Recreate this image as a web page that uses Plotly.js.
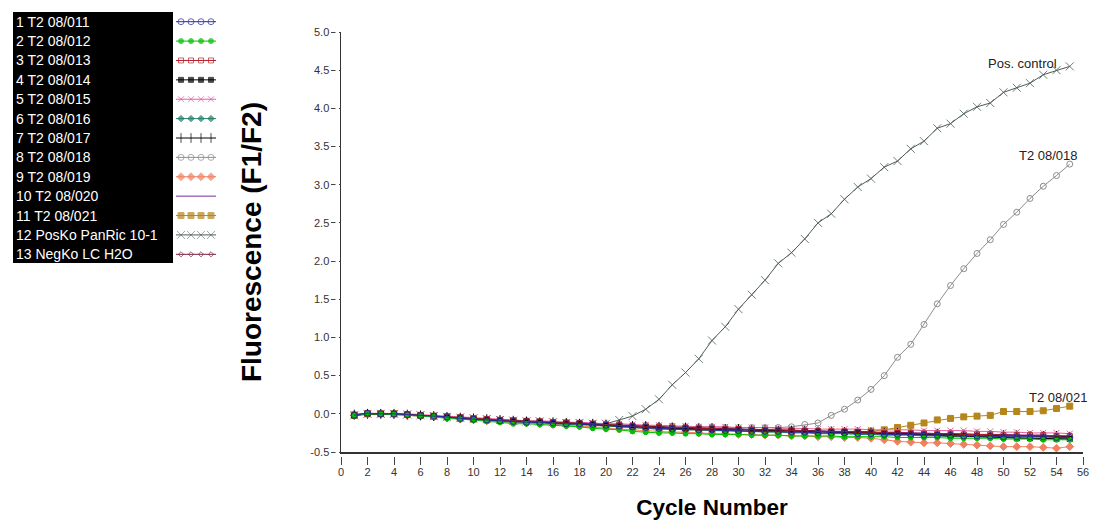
<!DOCTYPE html>
<html>
<head>
<meta charset="utf-8">
<script src="https://cdn.plot.ly/plotly-3.0.1.min.js"></script>
<style>html,body{margin:0;padding:0;background:#fff;}#chart{width:1094px;height:524px;}</style>
</head>
<body>
<div id="chart"></div>
<script>
const cycles = Array.from({length: 55}, (_, i) => i + 1);

const seriesNames = [
  "1 T2 08/011", "2 T2 08/012", "3 T2 08/013", "4 T2 08/014", "5 T2 08/015",
  "6 T2 08/016", "7 T2 08/017", "8 T2 08/018", "9 T2 08/019", "10 T2 08/020",
  "11 T2 08/021", "12 PosKo PanRic 10-1", "13 NegKo LC H2O"
];

const s01 = [-0.02,0.01,0.00,0.00,-0.01,-0.02,-0.03,-0.04,-0.06,-0.07,
  -0.08,-0.09,-0.10,-0.11,-0.11,-0.12,-0.13,-0.13,-0.14,-0.15,
  -0.16,-0.17,-0.18,-0.19,-0.20,-0.20,-0.21,-0.21,-0.22,-0.22,
  -0.23,-0.23,-0.23,-0.24,-0.24,-0.25,-0.25,-0.25,-0.26,-0.26,
  -0.27,-0.27,-0.27,-0.28,-0.28,-0.28,-0.29,-0.29,-0.29,-0.30,
  -0.30,-0.30,-0.30,-0.31,-0.31];
const s02 = [-0.02,0.00,0.00,-0.01,-0.02,-0.03,-0.04,-0.06,-0.07,-0.08,
  -0.10,-0.11,-0.13,-0.13,-0.14,-0.15,-0.16,-0.17,-0.19,-0.20,
  -0.21,-0.23,-0.24,-0.25,-0.25,-0.26,-0.26,-0.27,-0.27,-0.27,
  -0.28,-0.28,-0.28,-0.29,-0.29,-0.29,-0.29,-0.30,-0.30,-0.30,
  -0.30,-0.31,-0.31,-0.31,-0.31,-0.32,-0.32,-0.32,-0.32,-0.33,
  -0.33,-0.33,-0.34,-0.34,-0.34];
const s03 = [-0.01,0.00,0.00,0.00,-0.01,-0.02,-0.03,-0.04,-0.05,-0.06,
  -0.07,-0.08,-0.09,-0.10,-0.10,-0.11,-0.12,-0.12,-0.13,-0.14,
  -0.15,-0.16,-0.17,-0.17,-0.18,-0.18,-0.19,-0.19,-0.20,-0.20,
  -0.21,-0.21,-0.21,-0.22,-0.22,-0.23,-0.23,-0.23,-0.24,-0.24,
  -0.25,-0.25,-0.25,-0.26,-0.26,-0.26,-0.27,-0.27,-0.27,-0.28,
  -0.28,-0.28,-0.28,-0.29,-0.29];
const s04 = [-0.02,0.00,0.00,0.00,-0.01,-0.02,-0.03,-0.04,-0.05,-0.07,
  -0.08,-0.09,-0.09,-0.10,-0.11,-0.12,-0.12,-0.13,-0.14,-0.15,
  -0.16,-0.17,-0.17,-0.18,-0.19,-0.19,-0.20,-0.20,-0.21,-0.21,
  -0.21,-0.22,-0.22,-0.22,-0.23,-0.23,-0.24,-0.24,-0.24,-0.25,
  -0.26,-0.26,-0.27,-0.27,-0.28,-0.29,-0.29,-0.30,-0.30,-0.31,
  -0.32,-0.32,-0.32,-0.33,-0.33];
const s05 = [-0.01,0.00,0.01,0.00,0.00,-0.01,-0.02,-0.03,-0.04,-0.05,
  -0.06,-0.07,-0.08,-0.09,-0.09,-0.10,-0.11,-0.11,-0.12,-0.13,
  -0.13,-0.14,-0.15,-0.15,-0.16,-0.16,-0.17,-0.17,-0.17,-0.18,
  -0.18,-0.18,-0.19,-0.19,-0.19,-0.20,-0.20,-0.20,-0.20,-0.21,
  -0.21,-0.21,-0.21,-0.22,-0.22,-0.22,-0.22,-0.23,-0.23,-0.24,
  -0.24,-0.25,-0.25,-0.25,-0.26];
const s06 = [-0.02,-0.01,0.00,0.00,-0.01,-0.02,-0.03,-0.05,-0.06,-0.07,
  -0.08,-0.10,-0.11,-0.11,-0.12,-0.13,-0.14,-0.14,-0.15,-0.16,
  -0.17,-0.18,-0.19,-0.20,-0.20,-0.21,-0.21,-0.22,-0.22,-0.23,
  -0.23,-0.24,-0.24,-0.25,-0.25,-0.26,-0.26,-0.26,-0.27,-0.27,
  -0.28,-0.28,-0.28,-0.29,-0.29,-0.30,-0.30,-0.30,-0.31,-0.31,
  -0.31,-0.32,-0.32,-0.32,-0.33];
const s07 = [-0.01,0.00,0.00,0.00,-0.01,-0.02,-0.03,-0.04,-0.05,-0.06,
  -0.07,-0.08,-0.09,-0.10,-0.11,-0.11,-0.12,-0.13,-0.13,-0.14,
  -0.15,-0.16,-0.16,-0.17,-0.18,-0.18,-0.19,-0.19,-0.20,-0.20,
  -0.21,-0.21,-0.22,-0.22,-0.22,-0.23,-0.23,-0.24,-0.24,-0.24,
  -0.25,-0.25,-0.26,-0.26,-0.26,-0.27,-0.27,-0.27,-0.28,-0.28,
  -0.28,-0.29,-0.29,-0.29,-0.30];
const s08 = [-0.01,0.00,0.00,0.00,-0.01,-0.02,-0.03,-0.04,-0.05,-0.06,
  -0.07,-0.08,-0.09,-0.09,-0.10,-0.11,-0.11,-0.12,-0.13,-0.13,
  -0.14,-0.15,-0.15,-0.16,-0.16,-0.17,-0.17,-0.17,-0.18,-0.18,
  -0.18,-0.18,-0.18,-0.17,-0.14,-0.12,-0.02,0.06,0.18,0.32,
  0.50,0.74,0.91,1.17,1.44,1.68,1.90,2.10,2.28,2.48,
  2.64,2.82,2.98,3.12,3.27];
const s09 = [-0.02,0.00,0.00,-0.01,-0.02,-0.03,-0.04,-0.05,-0.07,-0.08,
  -0.09,-0.10,-0.11,-0.12,-0.13,-0.14,-0.15,-0.16,-0.17,-0.19,
  -0.20,-0.21,-0.22,-0.23,-0.24,-0.24,-0.25,-0.26,-0.26,-0.27,
  -0.27,-0.28,-0.28,-0.29,-0.29,-0.30,-0.30,-0.31,-0.31,-0.32,
  -0.34,-0.36,-0.37,-0.38,-0.38,-0.39,-0.40,-0.41,-0.42,-0.43,
  -0.43,-0.43,-0.44,-0.45,-0.43];
const s10 = [-0.01,0.00,0.00,0.00,-0.01,-0.02,-0.03,-0.04,-0.05,-0.06,
  -0.07,-0.08,-0.09,-0.10,-0.10,-0.11,-0.12,-0.12,-0.13,-0.14,
  -0.15,-0.15,-0.16,-0.17,-0.17,-0.18,-0.18,-0.19,-0.19,-0.20,
  -0.20,-0.21,-0.21,-0.21,-0.22,-0.22,-0.23,-0.23,-0.23,-0.24,
  -0.24,-0.24,-0.25,-0.25,-0.26,-0.26,-0.26,-0.27,-0.27,-0.27,
  -0.28,-0.28,-0.28,-0.29,-0.29];
const s11 = [-0.02,0.00,0.00,0.00,-0.01,-0.02,-0.03,-0.04,-0.06,-0.07,
  -0.08,-0.09,-0.10,-0.10,-0.11,-0.12,-0.13,-0.14,-0.15,-0.16,
  -0.17,-0.18,-0.19,-0.20,-0.20,-0.21,-0.21,-0.22,-0.22,-0.22,
  -0.23,-0.23,-0.23,-0.24,-0.24,-0.24,-0.24,-0.24,-0.24,-0.23,
  -0.21,-0.18,-0.15,-0.12,-0.08,-0.06,-0.04,-0.03,-0.02,0.03,
  0.03,0.03,0.04,0.07,0.10];
const s12 = [-0.02,0.00,0.00,0.00,-0.01,-0.02,-0.03,-0.04,-0.05,-0.06,
  -0.07,-0.08,-0.09,-0.10,-0.10,-0.11,-0.12,-0.12,-0.13,-0.13,
  -0.08,-0.03,0.06,0.19,0.38,0.54,0.72,0.96,1.14,1.37,
  1.56,1.75,1.97,2.11,2.29,2.50,2.62,2.81,2.97,3.08,
  3.23,3.31,3.47,3.57,3.74,3.80,3.93,4.02,4.07,4.21,
  4.27,4.33,4.44,4.50,4.55];
const s13 = [-0.02,0.00,0.00,0.00,-0.01,-0.02,-0.03,-0.04,-0.05,-0.07,
  -0.08,-0.09,-0.09,-0.10,-0.11,-0.12,-0.12,-0.13,-0.14,-0.15,
  -0.15,-0.16,-0.17,-0.18,-0.18,-0.19,-0.19,-0.20,-0.20,-0.21,
  -0.21,-0.22,-0.22,-0.23,-0.23,-0.23,-0.24,-0.24,-0.25,-0.25,
  -0.25,-0.26,-0.26,-0.27,-0.27,-0.27,-0.28,-0.28,-0.28,-0.29,
  -0.29,-0.29,-0.30,-0.30,-0.30];

const seriesValues = [s01,s02,s03,s04,s05,s06,s07,s08,s09,s10,s11,s12,s13];

const xTicks = [0,2,4,6,8,10,12,14,16,18,20,22,24,26,28,30,32,34,36,38,40,42,44,46,48,50,52,54,56];
const yTicks = [-0.5,0.0,0.5,1.0,1.5,2.0,2.5,3.0,3.5,4.0,4.5,5.0];
const yTickText = ["-0.5","0.0","0.5","1.0","1.5","2.0","2.5","3.0","3.5","4.0","4.5","5.0"];

// curve end labels: [series index, text, xshift, yshift]
const curveLabels = [[11, "Pos. control", -11, -7], [7, "T2 08/018", 10, -1], [10, "T2 08/021", 20, -1]];

// styles (not data)
const styles = [
  {color:"#2a2a9c", symbol:"circle-open", size:6, mw:1},
  {color:"#00c000", symbol:"circle", size:5, mw:1},
  {color:"#b02028", symbol:"square-open", size:5, mw:1},
  {color:"#000000", symbol:"square", size:5, mw:1},
  {color:"#e0609f", symbol:"x-thin-open", size:6, mw:1},
  {color:"#1f7f66", symbol:"diamond", size:5, mw:1},
  {color:"#000000", symbol:"line-ns-open", size:7, mw:1},
  {color:"#8c8c8c", symbol:"circle-open", size:6, mw:1},
  {color:"#f28060", symbol:"diamond", size:6, mw:1},
  {color:"#7a2a9a", symbol:null, size:0, mw:0},
  {color:"#b5861c", symbol:"square", size:6, mw:1},
  {color:"#4c5c58", symbol:"x-thin-open", size:8, mw:0.8},
  {color:"#7a1e3a", symbol:"diamond-open", size:4, mw:1}
];

const W = 1094, H = 524;
const px = v => v / W, py = v => 1 - v / H;
const FONT = "Arial, Liberation Sans, sans-serif";

function makeTrace(x, y, st, xa, ya, sizes) {
  const t = {
    x: x, y: y, type: "scatter",
    mode: st.symbol ? "lines+markers" : "lines",
    line: {color: st.color, width: 1},
    xaxis: xa, yaxis: ya, showlegend: false, hoverinfo: "skip"
  };
  if (st.symbol) {
    t.marker = {symbol: st.symbol, size: sizes || st.size, color: st.color, line: {color: st.color, width: st.mw}};
  }
  return t;
}

const traces = [];
for (let i = seriesValues.length - 1; i >= 0; i--) {
  const t = makeTrace(cycles, seriesValues[i], styles[i], "x", "y");
  t.name = seriesNames[i];
  traces.push(t);
}
// custom legend samples (text left, sample right, as in the reference)
const legendSampleX = [0, 0.5, 1.5, 2.5, 3.5, 4];
for (let i = 0; i < seriesNames.length; i++) {
  const st = styles[i];
  const sizes = legendSampleX.map((v, k) => (k === 0 || k === legendSampleX.length - 1) ? 0 : st.size);
  traces.push(makeTrace(legendSampleX, legendSampleX.map(() => i + 1), st, "x2", "y2", sizes));
}

const annotations = [];
seriesNames.forEach((n, i) => {
  annotations.push({
    text: n, xref: "paper", x: px(14), yref: "y2", y: i + 1,
    xanchor: "left", yanchor: "middle", showarrow: false,
    font: {family: FONT, size: 14, color: "#ffffff"}
  });
});
curveLabels.forEach(([si, txt, dx, dy]) => {
  const vals = seriesValues[si];
  annotations.push({
    text: txt, xref: "x", yref: "y", x: cycles[cycles.length - 1], y: vals[vals.length - 1],
    xanchor: "right", yanchor: "bottom", xshift: dx, yshift: dy, showarrow: false,
    font: {family: FONT, size: 13, color: "#222"}
  });
});

const layout = {
  width: W, height: H,
  margin: {l: 0, r: 0, t: 0, b: 0},
  paper_bgcolor: "#ffffff", plot_bgcolor: "rgba(0,0,0,0)",
  showlegend: false,
  font: {family: FONT, color: "#333"},
  xaxis: {
    domain: [px(341), px(1083)], range: [0, 56], autorange: false,
    tickmode: "array", tickvals: xTicks, ticktext: xTicks.map(String),
    ticks: "outside", ticklen: 11, tickwidth: 1, tickcolor: "#444", ticklabelstandoff: -2,
    showline: true, linecolor: "#333", linewidth: 1.5,
    showgrid: false, zeroline: false,
    tickfont: {family: FONT, size: 11, color: "#333"},
    title: {text: "Cycle Number", standoff: 22, font: {family: FONT, size: 22.5, color: "#000", weight: "bold"}},
    anchor: "y"
  },
  yaxis: {
    domain: [1 - 452 / H, 1 - 32 / H], range: [-0.5, 5.0], autorange: false,
    tickmode: "array", tickvals: yTicks, ticktext: yTickText,
    ticks: "outside", ticklen: 9, tickwidth: 1, tickcolor: "#444", ticklabelstandoff: -1,
    showline: true, linecolor: "#333", linewidth: 1.5,
    showgrid: false, zeroline: false,
    tickfont: {family: FONT, size: 11, color: "#333"},
    title: {text: "Fluorescence (F1/F2)", standoff: 40, font: {family: FONT, size: 28, color: "#000", weight: "bold"}},
    anchor: "x"
  },
  xaxis2: {domain: [px(176), px(216)], range: [0, 4], autorange: false, visible: false, fixedrange: true, anchor: "y2"},
  yaxis2: {domain: [py(264), py(12)], range: [13.5, 0.5], autorange: false, visible: false, fixedrange: true, anchor: "x2"},
  shapes: [
    {type: "rect", xref: "paper", yref: "paper", x0: px(13), x1: px(173), y0: py(263), y1: py(12),
     fillcolor: "#000000", line: {width: 0}, layer: "below"},
    // small gaps between the axis lines and their tick marks, as in the reference
    {type: "rect", xref: "paper", yref: "paper", x0: px(330), x1: px(1095), y0: py(457), y1: py(454),
     fillcolor: "#ffffff", line: {width: 0}, layer: "above"},
    {type: "rect", xref: "paper", yref: "paper", x0: px(335.5), x1: px(339), y0: py(458), y1: py(25),
     fillcolor: "#ffffff", line: {width: 0}, layer: "above"}
  ],
  annotations: annotations
};

Plotly.newPlot("chart", traces, layout, {displayModeBar: false, staticPlot: true});
</script>
</body>
</html>
